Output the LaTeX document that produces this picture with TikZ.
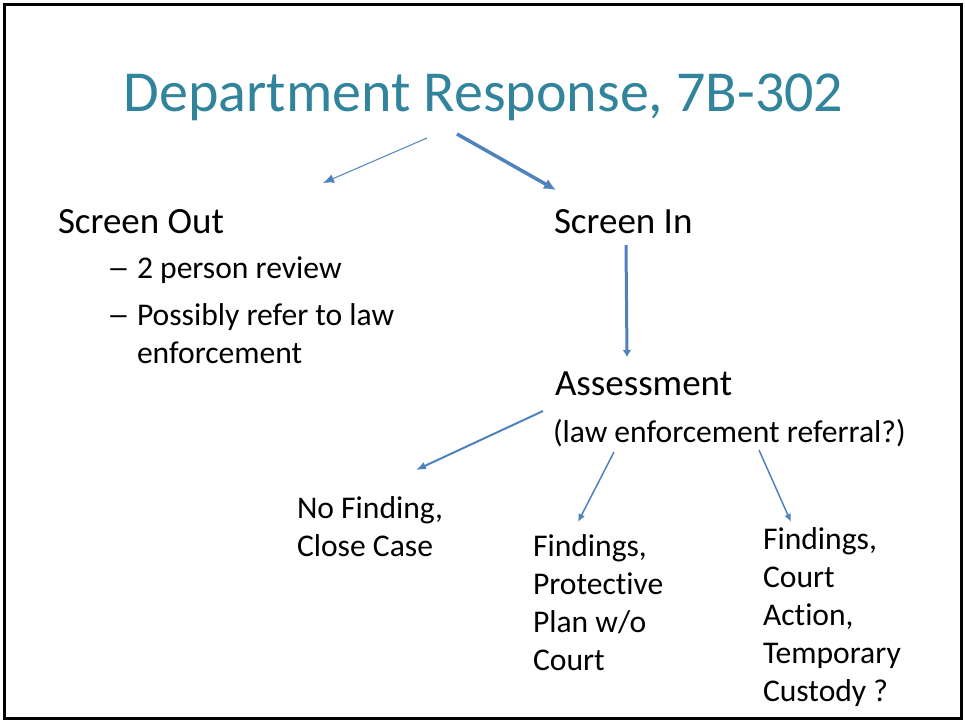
\documentclass[tikz,border=0pt]{standalone}
\usepackage{fontspec}
\setmainfont{Carlito}[Ligatures=CommonOff]
\usetikzlibrary{arrows.meta}
\definecolor{titleteal}{RGB}{49,132,155}
\definecolor{arrowblue}{RGB}{79,129,189}

\begin{document}
\begin{tikzpicture}[x=1pt, y=-1pt,
  every node/.style={inner sep=0pt, outer sep=0pt, align=left},
  big/.style={font=\fontsize{37}{44}\selectfont},
  small/.style={font=\fontsize{31.6}{38}\selectfont},
  arr/.style={draw=arrowblue, -{Latex[length=10pt,width=8pt]}}]

\useasboundingbox (0,0) rectangle (965,721);
\draw[line width=3pt] (4.5,4.5) rectangle (961,718.5);

\node[anchor=base, text=titleteal, font=\fontsize{58}{70}\selectfont] (titlenode) at (483.5,111) {Department Response, 7B-302};

\node[big, anchor=base west] (outnode) at (58,233) {Screen Out};
\node[big, anchor=base west] (innode) at (554,233) {Screen In};
\node[small, anchor=base west] (reviewnode) at (107,363) {\makebox[30pt][l]{\scalebox{1.45}[1]{–}}2 person review\\[9pt]\makebox[30pt][l]{\scalebox{1.45}[1]{–}}Possibly refer to law\\\makebox[30pt]{}enforcement};

\node[big, anchor=base west] (assessnode) at (555,395) {Assessment};
\node[small, anchor=base west] (referralnode) at (553,442) {(law enforcement referral?)};

\node[small, anchor=base west] (nofindnode) at (297,556) {No Finding,\\Close Case};
\node[small, anchor=base west] (protectnode) at (533,670) {Findings,\\Protective\\Plan w/o\\Court};
\node[small, anchor=base west] (custodynode) at (763,701) {Findings,\\Court\\Action,\\Temporary\\Custody ?};

\draw[arr, line width=1pt, -{Latex[length=11pt,width=9pt]}] ([shift={(-56.5,27)}]titlenode.base) -- ([shift={(265,-50)}]outnode.base west);
\draw[arr, line width=3.5pt, -{Latex[length=12pt,width=11pt]}] ([shift={(-26.5,23)}]titlenode.base) -- ([shift={(2,-43)}]innode.base west);
\draw[arr, line width=3pt, -{Latex[length=7pt,width=9pt]}] ([shift={(72,12)}]innode.base west) -- ([shift={(72,-38)}]assessnode.base west);
\draw[arr, line width=2pt] ([shift={(-10,-31)}]referralnode.base west) -- ([shift={(119,-86)}]nofindnode.base west);
\draw[arr, line width=1.5pt, -{Latex[length=8pt,width=7pt]}] ([shift={(61,10)}]referralnode.base west) -- ([shift={(45,-148)}]protectnode.base west);
\draw[arr, line width=1.5pt, -{Latex[length=8pt,width=7pt]}] ([shift={(206,8)}]referralnode.base west) -- ([shift={(28,-179)}]custodynode.base west);

\end{tikzpicture}
\end{document}
